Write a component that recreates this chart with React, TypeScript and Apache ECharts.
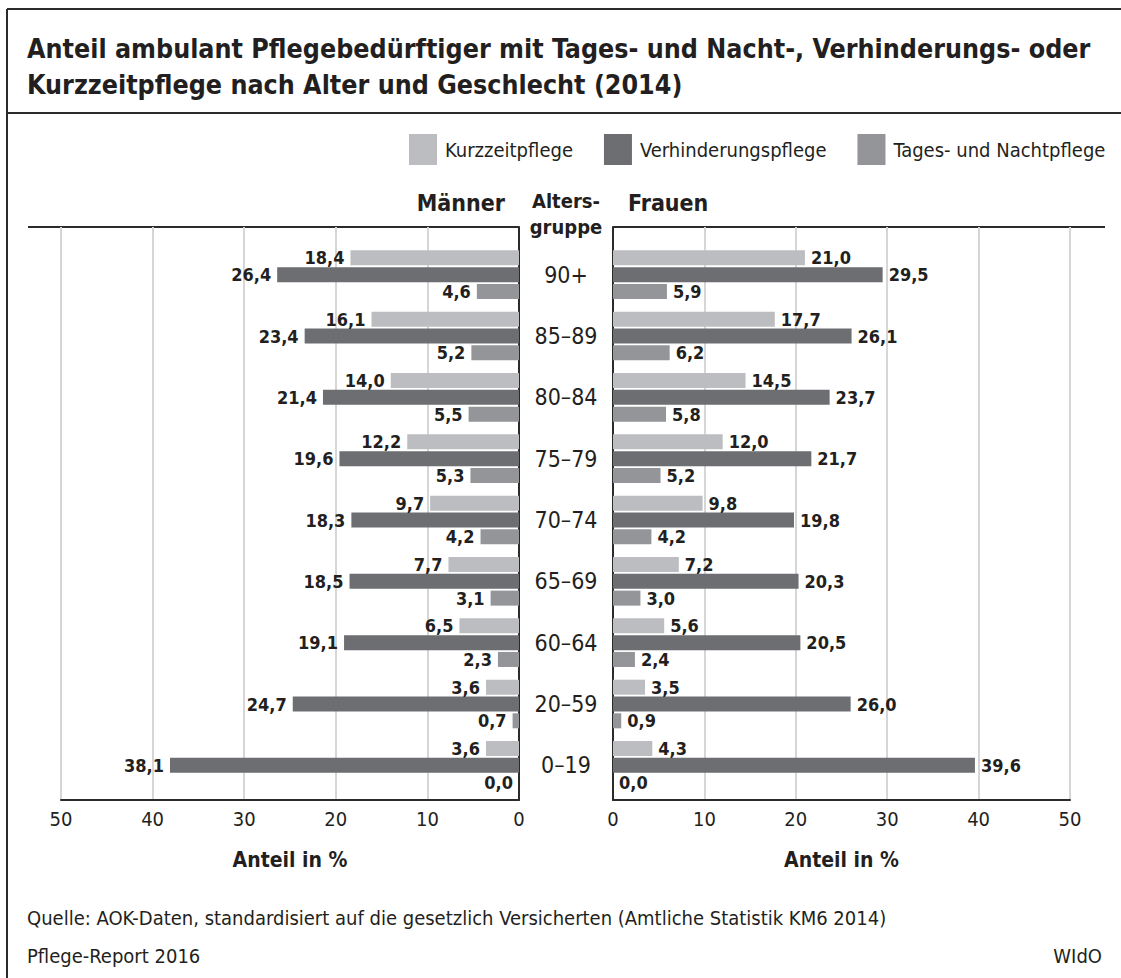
import React, { useEffect, useRef } from "react";
import * as echarts from "echarts";

const categories = ["90+", "85–89", "80–84", "75–79", "70–74", "65–69", "60–64", "20–59", "0–19"];
const seriesNames = ["Kurzzeitpflege", "Verhinderungspflege", "Tages- und Nachtpflege"];
const maennerKurz = [18.4, 16.1, 14.0, 12.2, 9.7, 7.7, 6.5, 3.6, 3.6];
const maennerVerh = [26.4, 23.4, 21.4, 19.6, 18.3, 18.5, 19.1, 24.7, 38.1];
const maennerTages = [4.6, 5.2, 5.5, 5.3, 4.2, 3.1, 2.3, 0.7, 0.0];
const frauenKurz = [21.0, 17.7, 14.5, 12.0, 9.8, 7.2, 5.6, 3.5, 4.3];
const frauenVerh = [29.5, 26.1, 23.7, 21.7, 19.8, 20.3, 20.5, 26.0, 39.6];
const frauenTages = [5.9, 6.2, 5.8, 5.2, 4.2, 3.0, 2.4, 0.9, 0.0];
const xMin = 0;
const xMax = 50;
const xInterval = 10;

const FONT = "'DejaVu Sans Condensed', 'DejaVu Sans', sans-serif";
const TEXT = "#231f20";
const COLORS = ["#bcbdc0", "#6d6e71", "#939598"];
const LINE = "#2b2b2b";

export default function App() {
  const ref = useRef<HTMLDivElement>(null);

  useEffect(() => {
    document.body.style.margin = "0";
    if (!ref.current) return;
    const chart = echarts.init(ref.current, null, { renderer: "svg" });

    const fmt = (p: any) => Number(p.value).toFixed(1).replace(".", ",");

    const frameX = (left: boolean) => ({
      type: "value",
      gridIndex: left ? 0 : 2,
      min: xMin,
      max: xMax,
      interval: xInterval,
      inverse: left,
      axisLine: { show: true, lineStyle: { color: LINE, width: 2 } },
      axisTick: { show: false },
      splitLine: { show: true, lineStyle: { color: "#d6d6d6", width: 2 } },
      axisLabel: { fontFamily: FONT, fontSize: 20, color: TEXT, margin: 9 },
      name: "Anteil in %",
      nameLocation: "middle",
      nameGap: 49,
      nameTextStyle: { fontFamily: FONT, fontSize: 21, fontWeight: "bold", color: TEXT },
    });
    const barX = (left: boolean) => ({
      type: "value",
      gridIndex: left ? 1 : 3,
      min: xMin,
      max: xMax,
      interval: xInterval,
      inverse: left,
      show: false,
    });
    const frameY = (left: boolean) => ({
      type: "value",
      gridIndex: left ? 0 : 2,
      min: 0,
      max: 1,
      position: left ? "right" : "left",
      axisLine: { show: true, lineStyle: { color: LINE, width: 2 } },
      axisTick: { show: false },
      axisLabel: { show: false },
      splitLine: { show: false },
    });
    const barY = (left: boolean) => ({
      type: "category",
      gridIndex: left ? 1 : 3,
      data: categories,
      inverse: true,
      position: left ? "right" : "left",
      axisLine: { show: false },
      axisTick: { show: false },
      splitLine: { show: false },
      axisLabel: left
        ? { show: true, fontFamily: FONT, fontSize: 23, color: TEXT, align: "center", margin: 47 }
        : { show: false },
    });

    const mk = (name: string, data: number[], idx: number, left: boolean) => ({
      type: "bar",
      name,
      xAxisIndex: left ? 1 : 3,
      yAxisIndex: left ? 1 : 3,
      data,
      barWidth: 15,
      barGap: "12%",
      itemStyle: { color: COLORS[idx] },
      label: {
        show: true,
        position: left ? "left" : "right",
        distance: 6,
        formatter: fmt,
        fontFamily: FONT,
        fontSize: 18,
        fontWeight: "bold",
        color: TEXT,
      },
    });

    const txt = (text: string, x: number, y: number, size: number, bold: boolean, align = "left") => ({
      type: "text",
      x,
      y,
      style: {
        text,
        fontFamily: FONT,
        fontSize: size,
        fontWeight: bold ? "bold" : "normal",
        fill: TEXT,
        align,
        verticalAlign: "middle",
      },
    });
    const ln = (x1: number, y1: number, x2: number, y2: number, w = 2) => ({
      type: "line",
      shape: { x1, y1, x2, y2 },
      style: { stroke: LINE, lineWidth: w },
    });

    const option: any = {
      animation: false,
      backgroundColor: "#ffffff",
      textStyle: { fontFamily: FONT },
      legend: {
        data: seriesNames,
        left: 409,
        top: 134,
        width: 712,
        padding: 0,
        itemWidth: 28,
        itemHeight: 31,
        itemGap: 31,
        icon: "rect",
        textStyle: { fontFamily: FONT, fontSize: 20, color: TEXT, padding: [0, 0, 0, 3] },
        selectedMode: false,
      },
      grid: [
        { left: 61, top: 227, width: 458, height: 573 },
        { left: 61, top: 244, width: 458, height: 552 },
        { left: 613, top: 227, width: 457, height: 573 },
        { left: 613, top: 244, width: 457, height: 552 },
      ],
      xAxis: [frameX(true), barX(true), frameX(false), barX(false)],
      yAxis: [frameY(true), barY(true), frameY(false), barY(false)],
      series: [
        mk(seriesNames[0], maennerKurz, 0, true),
        mk(seriesNames[1], maennerVerh, 1, true),
        mk(seriesNames[2], maennerTages, 2, true),
        mk(seriesNames[0], frauenKurz, 0, false),
        mk(seriesNames[1], frauenVerh, 1, false),
        mk(seriesNames[2], frauenTages, 2, false),
      ],
      graphic: [
        ln(7, 9, 1121, 9),
        ln(7, 9, 7, 978),
        ln(7, 113, 1121, 113),
        ln(28, 227, 519, 227),
        ln(613, 227, 1105, 227),
        txt("Anteil ambulant Pflegebedürftiger mit Tages- und Nacht-, Verhinderungs- oder", 27, 48, 26.6, true),
        txt("Kurzzeitpflege nach Alter und Geschlecht (2014)", 27, 84, 26.6, true),
        txt("Männer", 505, 203, 23, true, "right"),
        txt("Alters-", 566, 201, 20, true, "center"),
        txt("gruppe", 566, 227, 20, true, "center"),
        txt("Frauen", 628, 203, 23, true),
        txt("Quelle: AOK-Daten, standardisiert auf die gesetzlich Versicherten (Amtliche Statistik KM6 2014)", 27, 918, 20, false),
        txt("Pflege-Report 2016", 27, 956, 20, false),
        txt("WIdO", 1102, 956, 20, false, "right"),
      ],
    };

    chart.setOption(option);
    return () => chart.dispose();
  }, []);

  return <div ref={ref} style={{ width: 1121, height: 978 }} />;
}
